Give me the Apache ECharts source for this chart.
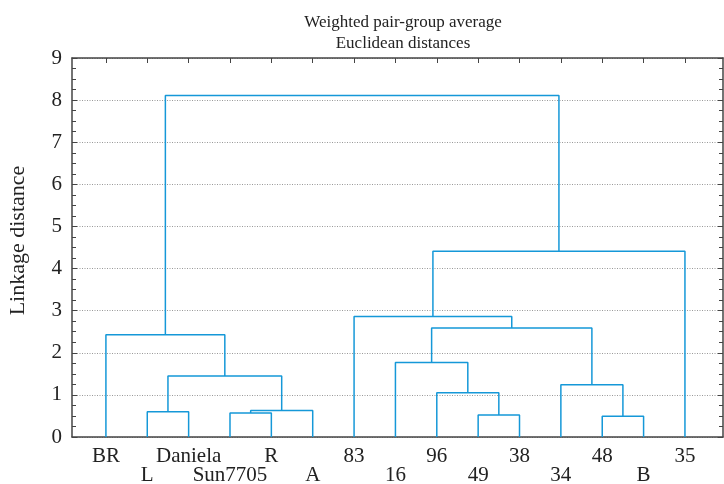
<!DOCTYPE html>
<html>
<head>
<meta charset="utf-8">
<script src="https://cdn.jsdelivr.net/npm/echarts@6/dist/echarts.min.js"></script>
<style>html,body{margin:0;padding:0;background:#fff}#c{width:724px;height:484px}</style>
</head>
<body>
<div id="c"></div>
<script>
// Leaf labels in dendrogram order
var leaves = ['BR','L','Daniela','Sun7705','R','A','83','16','96','49','38','34','48','B','35'];
// Merges: cluster ids 0..14 are leaves, each merge k creates cluster 15+k
var mergeLeft   = [1, 3, 16, 15, 0, 9, 8, 7, 12, 11, 22, 6, 26, 19];
var mergeRight  = [2, 4, 5, 17, 18, 10, 20, 21, 13, 23, 24, 25, 14, 27];
var mergeHeight = [0.60, 0.57, 0.63, 1.45, 2.43, 0.52, 1.05, 1.77, 0.49, 1.24, 2.59, 2.86, 4.41, 8.11];
var yTicks = [0,1,2,3,4,5,6,7,8,9];

var nLeaf = leaves.length;
var posX = [], posY = [];
for (var i = 0; i < nLeaf; i++) { posX.push(i); posY.push(0); }
var series = [];
var lineColor = '#1598d8';
for (var k = 0; k < mergeHeight.length; k++) {
  var a = mergeLeft[k], b = mergeRight[k], h = mergeHeight[k];
  series.push({
    type: 'line', symbol: 'none', silent: true, animation: false,
    lineStyle: { color: lineColor, width: 1.5 },
    data: [[posX[a], posY[a]], [posX[a], h], [posX[b], h], [posX[b], posY[b]]]
  });
  posX.push((posX[a] + posX[b]) / 2);
  posY.push(h);
}
var leafIdx = leaves.map(function (_, i) { return i; });
var serif = '"Liberation Serif", "DejaVu Serif", serif';
var axisCol = '#444';

var chart = echarts.init(document.getElementById('c'), null, { renderer: 'canvas' });
chart.setOption({
  backgroundColor: '#fff',
  animation: false,
  title: {
    text: 'Weighted pair-group average\nEuclidean distances',
    left: 398, top: 7, textAlign: 'center',
    textStyle: { fontFamily: serif, fontSize: 17, fontWeight: 'normal', color: '#222', lineHeight: 21 }
  },
  grid: { left: 72, right: 1, top: 58, bottom: 47, outerBoundsMode: 'none', containLabel: false },
  xAxis: [{
    type: 'value', min: -0.82, max: 14.92, position: 'bottom',
    axisLine: { show: true, onZero: false, lineStyle: { color: axisCol, width: 1.5 } },
    axisTick: { show: false },
    splitLine: { show: false },
    axisLabel: {
      customValues: leafIdx, margin: 10,
      fontFamily: serif, fontSize: 21, color: '#222', lineHeight: 19,
      formatter: function (v) { var i = Math.round(v); return (i % 2 ? '\n' : '') + leaves[i]; }
    }
  }, {
    type: 'value', min: -0.82, max: 14.92, position: 'top',
    axisLine: { show: true, onZero: false, lineStyle: { color: axisCol, width: 1.5 } },
    axisTick: { show: true, inside: true, length: 5, customValues: leafIdx, lineStyle: { color: axisCol } },
    axisLabel: { show: false }, splitLine: { show: false }
  }],
  yAxis: [{
    type: 'value', min: 0, max: 9, interval: 1, position: 'left',
    name: 'Linkage distance', nameLocation: 'middle', nameGap: 43,
    nameTextStyle: { fontFamily: serif, fontSize: 22, color: '#222', padding: [0, 0, 0, 14] },
    axisLine: { show: true, onZero: false, lineStyle: { color: axisCol, width: 1.5 } },
    axisTick: { show: true, inside: true, length: 5, lineStyle: { color: axisCol } },
    minorTick: { show: true, splitNumber: 4, length: 4, lineStyle: { color: axisCol } },
    axisLabel: { fontFamily: serif, fontSize: 21, color: '#222', margin: 10 },
    splitLine: { show: true, lineStyle: { color: '#999', type: [1, 1.5], width: 1 } }
  }, {
    type: 'value', min: 0, max: 9, interval: 1, position: 'right',
    axisLine: { show: true, onZero: false, lineStyle: { color: axisCol, width: 1.5 } },
    axisTick: { show: true, inside: true, length: 5, lineStyle: { color: axisCol } },
    minorTick: { show: true, splitNumber: 4, length: 4, lineStyle: { color: axisCol } },
    axisLabel: { show: false }, splitLine: { show: false }
  }],
  series: series
});
</script>
</body>
</html>
